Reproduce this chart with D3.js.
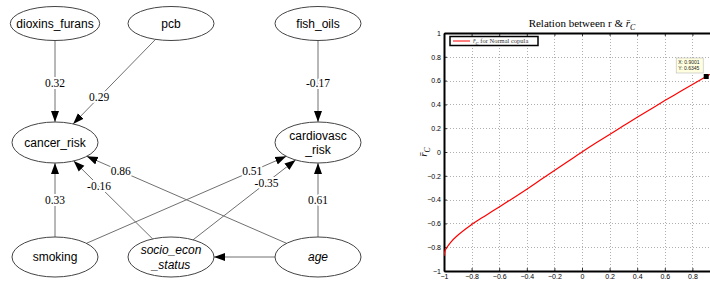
<!DOCTYPE html>
<html>
<head>
<meta charset="utf-8">
<script src="https://cdn.jsdelivr.net/npm/d3@7"></script>
<style>
body { margin: 0; background: #fff; }
svg { display: block; }
</style>
</head>
<body>
<script>
// path diagram (left)
var nodeNames = ['dioxins_furans', 'pcb', 'fish_oils', 'cancer_risk', 'cardiovasc\n_risk', 'smoking', 'socio_econ\n_status', 'age'];
var nodeRank = [0, 0, 0, 1, 1, 2, 2, 2];
var nodeCol = [0, 1, 2, 0, 2, 0, 1, 2];
var italicNodes = ['socio_econ\n_status', 'age'];

var edgeFrom = [0, 1, 2, 5, 5, 6, 6, 7, 7, 7];
var edgeTo = [3, 3, 4, 3, 4, 3, 4, 3, 4, 6];
var edgeWeights = [0.32, 0.29, -0.17, 0.33, 0.51, -0.16, -0.35, 0.86, 0.61, null];

// copula curve (right)
var rValues = [-1, -0.995, -0.98, -0.95, -0.9, -0.8, -0.7, -0.6, -0.5, -0.4, -0.3, -0.2, -0.1, 0, 0.1, 0.2, 0.3, 0.4, 0.5, 0.6, 0.7, 0.8, 0.9, 1];
var rcValues = [-0.874, -0.84, -0.805, -0.757, -0.70, -0.61, -0.535, -0.462, -0.388, -0.312, -0.234, -0.156, -0.078, 0, 0.075, 0.148, 0.22, 0.292, 0.362, 0.432, 0.50, 0.568, 0.6345, 0.70];
var axisTicks = [-1, -0.8, -0.6, -0.4, -0.2, 0, 0.2, 0.4, 0.6, 0.8, 1];
var tipX = 0.9001;
var tipY = 0.6345;

var svg = d3.select('body').append('svg')
	.attr('width', 710)
	.attr('height', 283);

// ---------- diagram ----------
var colX = d3.scaleOrdinal().domain([0, 1, 2]).range([55, 171, 318]);
var rankY = d3.scaleOrdinal().domain([0, 1, 2]).range([23.5, 142.5, 257]);
var rankRy = d3.scaleOrdinal().domain([0, 1, 2]).range([17, 20.5, 20]);
// where along each edge its label sits
var labelT = [0.5, 0.62, 0.5, 0.5, 0.75, 0.62, 0.65, 0.75, 0.5, 0.5];

var nodes = nodeNames.map((name, i) => ({
	name: name,
	x: colX(nodeCol[i]),
	y: rankY(nodeRank[i]),
	ry: rankRy(nodeRank[i]),
	rx: 43
}));

svg.append('defs').append('marker')
	.attr('id', 'arrow')
	.attr('markerUnits', 'userSpaceOnUse')
	.attr('viewBox', '0 -5 12 10')
	.attr('markerWidth', 12)
	.attr('markerHeight', 10)
	.attr('refX', 11)
	.attr('refY', 0)
	.attr('orient', 'auto')
	.append('path')
		.attr('d', 'M0,-4L11,0L0,4Z')
		.attr('fill', '#000');

var gNodes = svg.append('g');
var node = gNodes.selectAll('g').data(nodes).enter().append('g')
	.attr('transform', (d) => 'translate(' + d.x + ',' + d.y + ')');

var ell = node.append('ellipse')
	.attr('fill', 'none')
	.attr('stroke', '#444')
	.attr('stroke-width', 1)
	.attr('ry', (d) => d.ry);

node.append('text')
	.attr('text-anchor', 'middle')
	.attr('font-family', '"Liberation Sans", Arial, sans-serif')
	.attr('font-size', 12)
	.attr('font-style', (d) => italicNodes.indexOf(d.name) >= 0 ? 'italic' : 'normal')
	.each(function (d) {
		var lines = d.name.split('\n');
		var t = d3.select(this);
		lines.forEach((l, k) => {
			t.append('tspan')
				.attr('x', 0)
				.attr('y', (k - (lines.length - 1) / 2) * 14.5 + 4.3)
				.text(l);
		});
		d.rx = Math.max(43, this.getBBox().width / 2 + 6);
	});

ell.attr('rx', (d) => d.rx);

function boundary(n, dx, dy) {
	var t = 1 / Math.sqrt((dx / n.rx) * (dx / n.rx) + (dy / n.ry) * (dy / n.ry));
	return [n.x + dx * t, n.y + dy * t];
}

var edges = edgeFrom.map((f, i) => {
	var s = nodes[f], t = nodes[edgeTo[i]];
	var dx = t.x - s.x, dy = t.y - s.y;
	return {
		p0: boundary(s, dx, dy),
		p1: boundary(t, -dx, -dy),
		lx: s.x + dx * labelT[i],
		ly: s.y + dy * labelT[i],
		w: edgeWeights[i]
	};
});

var gEdges = svg.insert('g', 'g');
gEdges.selectAll('line').data(edges).enter().append('line')
	.attr('x1', (d) => d.p0[0])
	.attr('y1', (d) => d.p0[1])
	.attr('x2', (d) => d.p1[0])
	.attr('y2', (d) => d.p1[1])
	.attr('stroke', '#707070')
	.attr('stroke-width', 1)
	.attr('marker-end', 'url(#arrow)');

gEdges.selectAll('text').data(edges.filter((d) => d.w !== null)).enter().append('text')
	.attr('x', (d) => d.lx)
	.attr('y', (d) => d.ly + 4)
	.attr('text-anchor', 'middle')
	.attr('font-family', '"Liberation Serif", "Times New Roman", serif')
	.attr('font-size', 11.5)
	.attr('fill', '#000')
	.attr('stroke', '#fff')
	.attr('stroke-width', 4)
	.attr('paint-order', 'stroke')
	.text((d) => d.w.toFixed(2));

// ---------- copula chart ----------
var x = d3.scaleLinear().domain([-1, 1]).range([444, 720]);
var y = d3.scaleLinear().domain([-1, 1]).range([271, 33]);
var fmt = d3.format('~g');
var serif = '"Liberation Serif", "DejaVu Serif", serif';
var sans = '"Liberation Sans", Arial, sans-serif';

function rcLabel(sel, size) {
	sel.append('tspan').attr('font-style', 'italic').text('r\u0304');
	sel.append('tspan').attr('font-style', 'italic').attr('font-size', size * 0.72).attr('dy', size * 0.25).text('C');
}

var chart = svg.append('g');

var grid = chart.append('g')
	.attr('stroke', '#b0b0b0')
	.attr('stroke-width', 1)
	.attr('stroke-dasharray', '1,2');
grid.selectAll('.gx').data(axisTicks.slice(1, -1)).enter().append('line')
	.attr('x1', (d) => Math.round(x(d)) + 0.5)
	.attr('x2', (d) => Math.round(x(d)) + 0.5)
	.attr('y1', y(-1))
	.attr('y2', y(1));
grid.selectAll('.gy').data(axisTicks.slice(1, -1)).enter().append('line')
	.attr('x1', x(-1))
	.attr('x2', x(1))
	.attr('y1', (d) => Math.round(y(d)) + 0.5)
	.attr('y2', (d) => Math.round(y(d)) + 0.5);

var yAxis = chart.append('g')
	.attr('transform', 'translate(444,0)')
	.call(d3.axisLeft(y).tickValues(axisTicks).tickSize(-3).tickSizeOuter(0).tickPadding(3).tickFormat(fmt));
// the last x label (1) falls outside the window in the original
var xAxis = chart.append('g')
	.attr('transform', 'translate(0,271)')
	.call(d3.axisBottom(x).tickValues(axisTicks.slice(0, -1)).tickSize(-3).tickSizeOuter(0).tickPadding(3.5).tickFormat(fmt));
var topAxis = chart.append('g')
	.attr('transform', 'translate(0,33)')
	.call(d3.axisTop(x).tickValues(axisTicks).tickSize(-3).tickSizeOuter(0).tickFormat(''));

[yAxis, xAxis, topAxis].forEach((a) => {
	a.select('.domain').attr('stroke', '#000').attr('stroke-width', 2);
	a.selectAll('.tick line').attr('stroke', '#000').attr('stroke-width', 0.8);
	a.selectAll('.tick text').attr('font-family', sans).attr('font-size', 7).attr('fill', '#000');
});

chart.append('clipPath').attr('id', 'plotclip').append('rect')
	.attr('x', x(-1)).attr('y', y(1))
	.attr('width', x(1) - x(-1)).attr('height', y(-1) - y(1));

var line = d3.line()
	.curve(d3.curveMonotoneX)
	.x((d) => x(d[0]))
	.y((d) => y(d[1]));

chart.append('path')
	.datum(rValues.map((r, i) => [r, rcValues[i]]))
	.attr('clip-path', 'url(#plotclip)')
	.attr('fill', 'none')
	.attr('stroke', '#f00')
	.attr('stroke-width', 1.2)
	.attr('d', line);

// title
var title = chart.append('text')
	.attr('x', (x(-1) + x(1)) / 2)
	.attr('y', 27)
	.attr('text-anchor', 'middle')
	.attr('font-family', serif)
	.attr('font-size', 11);
title.append('tspan').text('Relation between r & ');
rcLabel(title, 11);

// y label
var yl = chart.append('text')
	.attr('transform', 'translate(427,152) rotate(-90)')
	.attr('text-anchor', 'middle')
	.attr('font-family', serif)
	.attr('font-size', 11);
rcLabel(yl, 11);

// legend
var leg = chart.append('g');
leg.append('rect')
	.attr('x', 450).attr('y', 36.5).attr('width', 88).attr('height', 9)
	.attr('fill', '#fff').attr('stroke', '#000').attr('stroke-width', 1.5);
leg.append('line')
	.attr('x1', 453).attr('x2', 470).attr('y1', 41).attr('y2', 41)
	.attr('stroke', '#f00').attr('stroke-width', 1);
var lt = leg.append('text')
	.attr('x', 473).attr('y', 43.2)
	.attr('font-family', serif)
	.attr('font-size', 6.5)
	.attr('fill', '#333');
rcLabel(lt, 6.5);
lt.append('tspan').attr('dy', -6.5 * 0.25).text(' for Normal copula');

// data tip
var tip = chart.append('g');
tip.append('rect')
	.attr('x', x(tipX) - 30).attr('y', y(tipY) - 18.5).attr('width', 27).attr('height', 15)
	.attr('fill', '#ffffe0').attr('stroke', '#bbb').attr('stroke-width', 0.6);
tip.selectAll('text').data(['X: ' + tipX.toFixed(4), 'Y: ' + tipY.toFixed(4)]).enter().append('text')
	.attr('x', x(tipX) - 28)
	.attr('y', (d, i) => y(tipY) - 12.5 + i * 6.5)
	.attr('font-family', sans)
	.attr('font-size', 5)
	.attr('fill', '#222')
	.text((d) => d);
tip.append('rect')
	.attr('x', x(tipX) - 2.5).attr('y', y(tipY) - 2.5).attr('width', 5).attr('height', 5)
	.attr('fill', '#000');
</script>
</body>
</html>
